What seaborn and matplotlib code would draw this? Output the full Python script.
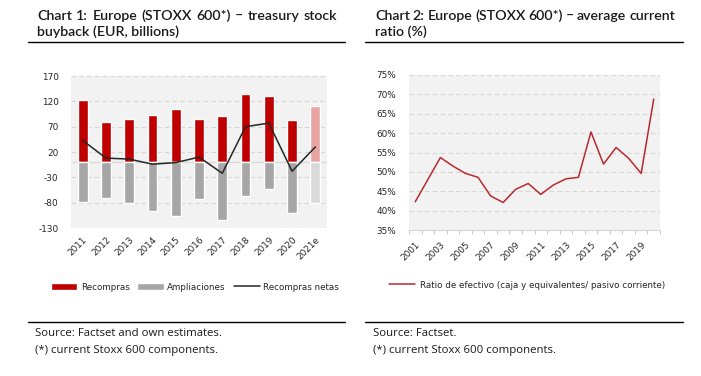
import numpy as np
import pandas as pd
import matplotlib
matplotlib.use("Agg")
import matplotlib.pyplot as plt
from matplotlib.patches import Patch
from matplotlib.lines import Line2D
import seaborn as sns

# ---------------- data ----------------
years1 = ["2011", "2012", "2013", "2014", "2015", "2016", "2017", "2018", "2019", "2020", "2021e"]
recompras = [122, 79, 85, 93, 105, 85, 91, 134, 130, 83, 111]
ampliaciones = [-79, -70, -81, -96, -106, -73, -114, -67, -53, -100, -80]
netas = [43, 8, 6, -4, -1, 10, -22, 70, 77, -18, 30]
yticks1 = [170, 120, 70, 20, -30, -80, -130]

years2 = [str(y) for y in range(2001, 2021)]
ratio = [42.3, 48.0, 53.7, 51.5, 49.6, 48.6, 43.8, 42.1, 45.5, 47.0,
         44.2, 46.6, 48.2, 48.6, 60.3, 52.0, 56.3, 53.5, 49.6, 68.8]
yticks2 = [35, 40, 45, 50, 55, 60, 65, 70, 75]

title1 = ["Chart 1: Europe (STOXX 600*) – treasury stock", "buyback (EUR, billions)"]
title2 = ["Chart 2: Europe (STOXX 600*) – average current", "ratio (%)"]
src1 = ["Source: Factset and own estimates.", "(*) current Stoxx 600 components."]
src2 = ["Source: Factset.", "(*) current Stoxx 600 components."]

# ---------------- style ----------------
sns.set_theme(style="white")
plt.rcParams["font.family"] = ["DejaVu Sans"]

W, H = 701, 376
fig = plt.figure(figsize=(W / 100, H / 100), dpi=100)

RED = "#C00000"
GRAY = "#A6A6A6"
RED_L = "#E8A3A3"
GRAY_L = "#D9D9D9"
BG = "#F2F2F2"
GRID = "#D5D5D5"
TICKC = "#262626"


def fbox(x0, y0, x1, y1):
    return [x0 / W, 1 - y1 / H, (x1 - x0) / W, (y1 - y0) / H]


# ---------------- chart 1 ----------------
ax1 = fig.add_axes(fbox(71, 76, 327, 228))
ax1.set_facecolor(BG)
df1 = pd.DataFrame({"year": years1, "rec": recompras, "amp": ampliaciones,
                    "net": netas, "pos": np.arange(len(years1))})
pal_r = {y: (RED_L if y.endswith("e") else RED) for y in years1}
pal_g = {y: (GRAY_L if y.endswith("e") else GRAY) for y in years1}
for yv in yticks1:
    ax1.axhline(yv, color=GRID, lw=0.8, ls=(0, (4, 3)), zorder=0)
ax1.axhline(0, color="#D9D9D9", lw=1.0, zorder=0.5)
sns.barplot(data=df1, x="year", y="rec", hue="year", palette=pal_r, order=years1,
            width=0.42, legend=False, ax=ax1, zorder=2, saturation=1)
sns.barplot(data=df1, x="year", y="amp", hue="year", palette=pal_g, order=years1,
            width=0.42, legend=False, ax=ax1, zorder=2, saturation=1)
sns.lineplot(data=df1, x="pos", y="net", color="#262626", lw=1.1, ax=ax1, zorder=3)
ax1.set_xlim(-0.5, len(years1) - 0.5)
ax1.set_ylim(-130, 170)
ax1.set_yticks(yticks1)
ax1.set_yticklabels([str(v) for v in yticks1], fontsize=6.4, color=TICKC)
ax1.set_xticks(np.arange(len(years1)))
ax1.set_xticklabels(years1, rotation=45, ha="right", rotation_mode="anchor",
                    fontsize=6.4, color=TICKC)
ax1.tick_params(axis="both", length=0, pad=5)
ax1.tick_params(axis="y", pad=9)
ax1.set_xlabel("")
ax1.set_ylabel("")
for s in ax1.spines.values():
    s.set_visible(False)

handles1 = [Patch(facecolor=RED, label="Recompras"),
            Patch(facecolor=GRAY, label="Ampliaciones"),
            Line2D([], [], color="#262626", lw=1.1, label="Recompras netas")]
fig.legend(handles=handles1, loc="center", bbox_to_anchor=(195 / W, 1 - 287 / H),
           ncol=3, frameon=False, fontsize=6.3, handlelength=3.0, handleheight=0.7,
           columnspacing=0.9, handletextpad=0.4, labelcolor=TICKC)

# ---------------- chart 2 ----------------
ax2 = fig.add_axes(fbox(409, 75, 660, 230))
ax2.set_facecolor(BG)
df2 = pd.DataFrame({"year": years2, "ratio": ratio, "pos": np.arange(len(years2))})
for yv in yticks2:
    ax2.axhline(yv, color=GRID, lw=0.8, ls=(0, (4, 3)), zorder=0)
sns.lineplot(data=df2, x="pos", y="ratio", color="#B82A2E", lw=1.1, ax=ax2, zorder=3)
ax2.set_xlim(-0.5, len(years2) - 0.5)
ax2.set_ylim(35, 75)
ax2.set_yticks(yticks2)
ax2.set_yticklabels([f"{v}%" for v in yticks2], fontsize=6.4, color=TICKC)
ax2.set_xticks(np.arange(0, len(years2), 2))
ax2.set_xticklabels(years2[::2], rotation=45, ha="right", rotation_mode="anchor",
                    fontsize=6.4, color=TICKC)
ax2.set_xticks(np.arange(-0.5, len(years2)), minor=True)
ax2.tick_params(axis="x", which="major", length=0, pad=7)
ax2.tick_params(axis="x", which="minor", length=3, width=0.6, color="#BFBFBF",
                direction="out", bottom=True)
ax2.tick_params(axis="y", length=0, pad=9)
ax2.set_xlabel("")
ax2.set_ylabel("")
for k, s in ax2.spines.items():
    s.set_visible(k == "bottom")
ax2.spines["bottom"].set_color("#D9D9D9")
ax2.spines["bottom"].set_linewidth(0.8)

handles2 = [Line2D([], [], color="#B82A2E", lw=1.1,
                   label="Ratio de efectivo (caja y equivalentes/ pasivo corriente)")]
fig.legend(handles=handles2, loc="center", bbox_to_anchor=(527 / W, 1 - 285 / H),
           frameon=False, fontsize=6.3, handlelength=3.0, handletextpad=0.5,
           labelcolor=TICKC)

# ---------------- titles, rules, sources ----------------
TFONT = dict(family=["Lato", "DejaVu Sans"], fontsize=10.2, fontweight="semibold",
             color="#1a1a1a")
SFONT = dict(family=["Open Sans", "DejaVu Sans"], fontsize=8.2, color="#1a1a1a")

renderer = fig.canvas.get_renderer()


def justified(text, x0, x1, y):
    words = text.split(" ")
    arts = [fig.text(x0 / W, 1 - y / H, w, va="center", ha="left", **TFONT) for w in words]
    widths = [a.get_window_extent(renderer).width for a in arts]
    gap = (x1 - x0 - sum(widths)) / (len(words) - 1)
    x = x0
    for a, w in zip(arts, widths):
        a.set_x(x / W)
        x += w + gap


def draw_panel_text(title, src, xt, x1, lx0, lx1):
    justified(title[0], xt, x1, 16)
    fig.text(xt / W, 1 - 32 / H, title[1], va="center", ha="left", **TFONT)
    fig.add_artist(Line2D([lx0 / W, lx1 / W], [1 - 42 / H] * 2, color="black", lw=1.0))
    fig.add_artist(Line2D([lx0 / W, lx1 / W], [1 - 322 / H] * 2, color="black", lw=1.0))
    fig.text((xt - 2) / W, 1 - 333 / H, src[0], va="center", ha="left", **SFONT)
    fig.text((xt - 2) / W, 1 - 351 / H, src[1], va="center", ha="left", **SFONT)


draw_panel_text(title1, src1, 37, 337, 28, 345)
draw_panel_text(title2, src2, 375, 675, 365, 683)

fig.savefig("out.png", dpi=100, facecolor="white")
